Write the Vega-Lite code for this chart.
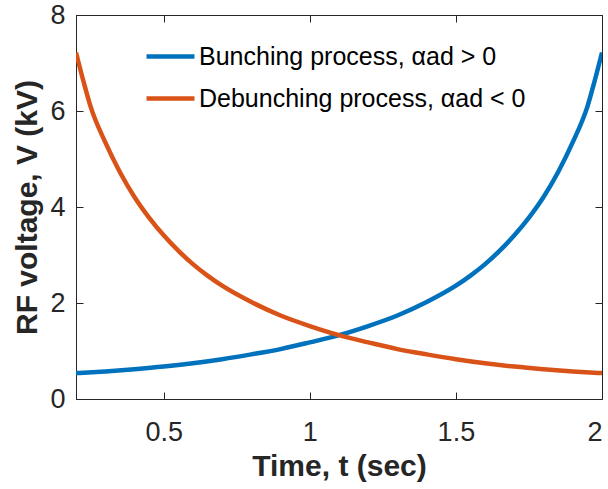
{
  "$schema": "https://vega.github.io/schema/vega-lite/v6.json",
  "width": 526,
  "height": 384,
  "autosize": {"type": "none"},
  "padding": {"left": 76, "top": 15, "right": 6, "bottom": 90},
  "background": "white",
  "config": {
    "view": {"stroke": "#262626", "strokeWidth": 1},
    "font": "Liberation Sans",
    "axis": {
      "domainColor": "#262626",
      "tickColor": "#262626",
      "labelColor": "#262626",
      "titleColor": "#262626",
      "labelFont": "Liberation Sans",
      "titleFont": "Liberation Sans",
      "labelFontSize": 27,
      "titleFontSize": 30,
      "titleFontWeight": "bold",
      "grid": false,
      "tickSize": -7,
      "domainWidth": 1
    }
  },
  "data": {
    "values": [
      {"t": 0.2, "V": 0.54, "series": "Bunching process, αad > 0"},
      {"t": 0.3, "V": 0.575, "series": "Bunching process, αad > 0"},
      {"t": 0.4, "V": 0.62, "series": "Bunching process, αad > 0"},
      {"t": 0.5, "V": 0.675, "series": "Bunching process, αad > 0"},
      {"t": 0.6, "V": 0.745, "series": "Bunching process, αad > 0"},
      {"t": 0.7, "V": 0.83, "series": "Bunching process, αad > 0"},
      {"t": 0.8, "V": 0.93, "series": "Bunching process, αad > 0"},
      {"t": 0.9, "V": 1.04, "series": "Bunching process, αad > 0"},
      {"t": 1.0, "V": 1.18, "series": "Bunching process, αad > 0"},
      {"t": 1.1, "V": 1.33, "series": "Bunching process, αad > 0"},
      {"t": 1.2, "V": 1.52, "series": "Bunching process, αad > 0"},
      {"t": 1.3, "V": 1.74, "series": "Bunching process, αad > 0"},
      {"t": 1.4, "V": 2.02, "series": "Bunching process, αad > 0"},
      {"t": 1.5, "V": 2.36, "series": "Bunching process, αad > 0"},
      {"t": 1.55, "V": 2.57, "series": "Bunching process, αad > 0"},
      {"t": 1.6, "V": 2.81, "series": "Bunching process, αad > 0"},
      {"t": 1.65, "V": 3.09, "series": "Bunching process, αad > 0"},
      {"t": 1.7, "V": 3.41, "series": "Bunching process, αad > 0"},
      {"t": 1.75, "V": 3.78, "series": "Bunching process, αad > 0"},
      {"t": 1.8, "V": 4.21, "series": "Bunching process, αad > 0"},
      {"t": 1.85, "V": 4.73, "series": "Bunching process, αad > 0"},
      {"t": 1.9, "V": 5.35, "series": "Bunching process, αad > 0"},
      {"t": 1.95, "V": 6.09, "series": "Bunching process, αad > 0"},
      {"t": 1.975, "V": 6.63, "series": "Bunching process, αad > 0"},
      {"t": 2.0, "V": 7.22, "series": "Bunching process, αad > 0"},
      {"t": 0.2, "V": 7.22, "series": "Debunching process, αad < 0"},
      {"t": 0.225, "V": 6.63, "series": "Debunching process, αad < 0"},
      {"t": 0.25, "V": 6.09, "series": "Debunching process, αad < 0"},
      {"t": 0.3, "V": 5.35, "series": "Debunching process, αad < 0"},
      {"t": 0.35, "V": 4.73, "series": "Debunching process, αad < 0"},
      {"t": 0.4, "V": 4.21, "series": "Debunching process, αad < 0"},
      {"t": 0.45, "V": 3.78, "series": "Debunching process, αad < 0"},
      {"t": 0.5, "V": 3.41, "series": "Debunching process, αad < 0"},
      {"t": 0.55, "V": 3.09, "series": "Debunching process, αad < 0"},
      {"t": 0.6, "V": 2.81, "series": "Debunching process, αad < 0"},
      {"t": 0.65, "V": 2.57, "series": "Debunching process, αad < 0"},
      {"t": 0.7, "V": 2.36, "series": "Debunching process, αad < 0"},
      {"t": 0.8, "V": 2.02, "series": "Debunching process, αad < 0"},
      {"t": 0.9, "V": 1.74, "series": "Debunching process, αad < 0"},
      {"t": 1.0, "V": 1.52, "series": "Debunching process, αad < 0"},
      {"t": 1.1, "V": 1.33, "series": "Debunching process, αad < 0"},
      {"t": 1.2, "V": 1.18, "series": "Debunching process, αad < 0"},
      {"t": 1.3, "V": 1.04, "series": "Debunching process, αad < 0"},
      {"t": 1.4, "V": 0.93, "series": "Debunching process, αad < 0"},
      {"t": 1.5, "V": 0.83, "series": "Debunching process, αad < 0"},
      {"t": 1.6, "V": 0.745, "series": "Debunching process, αad < 0"},
      {"t": 1.7, "V": 0.675, "series": "Debunching process, αad < 0"},
      {"t": 1.8, "V": 0.62, "series": "Debunching process, αad < 0"},
      {"t": 1.9, "V": 0.575, "series": "Debunching process, αad < 0"},
      {"t": 2.0, "V": 0.54, "series": "Debunching process, αad < 0"}
    ]
  },
  "layer": [
    {
      "mark": {"type": "line", "strokeWidth": 4.5, "interpolate": "monotone", "clip": true},
      "encoding": {
        "x": {
          "field": "t", "type": "quantitative",
          "scale": {"domain": [0.2, 2], "nice": false, "zero": false},
          "axis": {"orient": "bottom", "values": [0.5, 1, 1.5, 2], "format": "~g", "labelPadding": 27, "title": "Time, t (sec)", "titlePadding": 6}
        },
        "y": {
          "field": "V", "type": "quantitative",
          "scale": {"domain": [0, 8], "nice": false},
          "axis": {"orient": "left", "values": [0, 2, 4, 6, 8], "labelPadding": 18, "title": "RF voltage, V (kV)", "titlePadding": 7}
        },
        "color": {
          "field": "series", "type": "nominal",
          "scale": {"domain": ["Bunching process, αad > 0", "Debunching process, αad < 0"], "range": ["#0072BD", "#D95319"]},
          "legend": {
            "orient": "none", "legendX": 68, "legendY": 15, "padding": 0,
            "title": null,
            "symbolType": "stroke", "symbolSize": 2300, "symbolStrokeWidth": 4.5,
            "labelFontSize": 25, "labelFont": "Liberation Sans", "labelColor": "#000000",
            "labelOffset": 2, "rowPadding": 2, "labelLimit": 500
          }
        },
        "detail": {"field": "series"}
      }
    },
    {
      "mark": {"type": "point", "opacity": 0},
      "encoding": {
        "x": {"field": "t", "type": "quantitative", "axis": {"orient": "top", "values": [0.5, 1, 1.5, 2], "labels": false, "title": null, "domain": false}},
        "y": {"field": "V", "type": "quantitative", "axis": {"orient": "right", "values": [0, 2, 4, 6, 8], "labels": false, "title": null, "domain": false}}
      }
    }
  ],
  "resolve": {"axis": {"x": "independent", "y": "independent"}}
}
